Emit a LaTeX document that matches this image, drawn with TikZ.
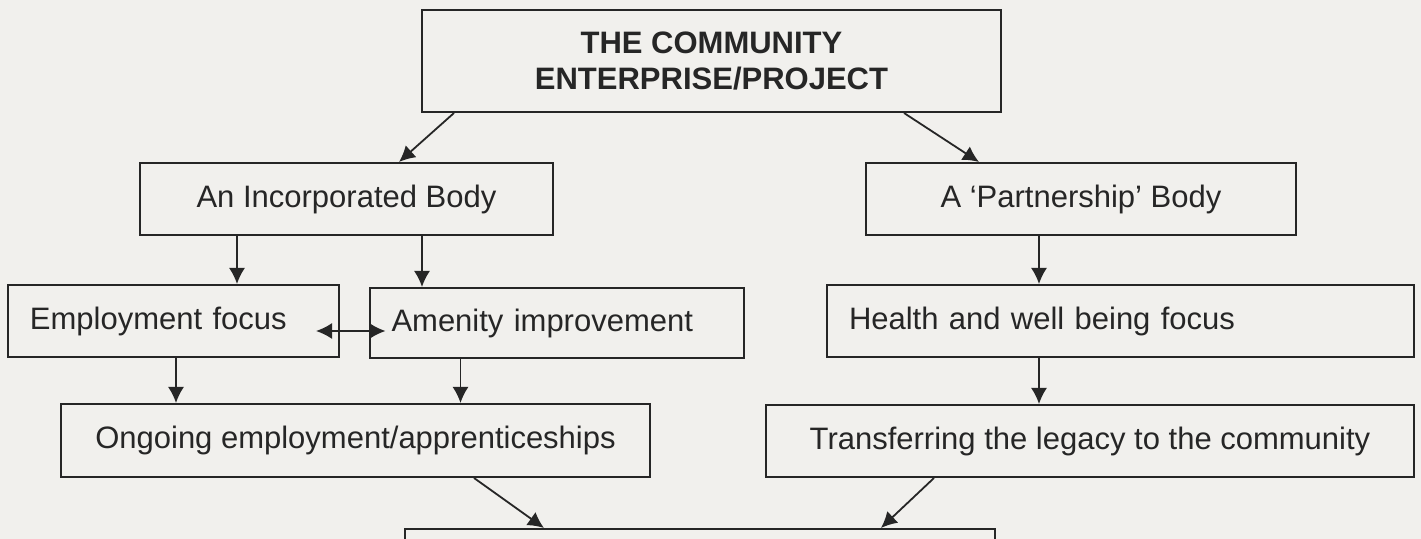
\documentclass[tikz,border=0pt]{standalone}
\usepackage{fontspec}
\setmainfont{Liberation Sans}
\usetikzlibrary{arrows.meta}
\definecolor{ink}{HTML}{262626}
\definecolor{paper}{HTML}{F1F0ED}

\begin{document}
\begin{tikzpicture}[x=0.5pt,y=-0.5pt,
		box/.style={draw=ink,line width=1pt,text=ink,inner sep=0pt,align=center,
			font=\fontsize{15.5}{18}\selectfont},
		lbox/.style={box,align=left,inner xsep=11pt},
		arr/.style={draw=ink,line width=0.9pt,-{Latex[length=8pt,width=8pt]}},
		darr/.style={arr,{Latex[length=8pt,width=8pt]}-{Latex[length=8pt,width=8pt]}}]
	\useasboundingbox[fill=paper] (0,0) rectangle (1421,539);
		\node[box,minimum width=289.5pt,minimum height=51pt,font=\fontsize{15.5}{18}\selectfont\bfseries]
			(project) at (711.5,61) {THE COMMUNITY\\ENTERPRISE/PROJECT};
		\node[box,minimum width=206.5pt,minimum height=36pt]
			(incorp) at (346.5,199) {An Incorporated Body};
		\node[box,minimum width=215pt,minimum height=36pt]
			(partner) at (1081,199) {A ‘Partnership’ Body};
		\node[lbox,text width=143.5pt,minimum height=36pt]
			(employ) at (173.5,321) {Employment focus};
		\node[lbox,text width=165pt,minimum height=35pt]
			(amenity) at (556.5,323) {Amenity improvement};
		\node[lbox,text width=271.5pt,minimum height=36pt]
			(health) at (1120.5,321) {Health and well being focus};
		\node[box,minimum width=294.5pt,minimum height=36.5pt]
			(ongoing) at (355.5,440.5) {Ongoing employment/apprenticeships};
		\node[box,minimum width=324pt,minimum height=36pt]
			(transfer) at (1090,441) {Transferring the legacy to the community};
		\node[box,minimum width=295pt,minimum height=32pt]
			(outcome) at (700,561) {};
	\draw[arr] ([xshift=16.5pt]project.south west) -- ([xshift=130pt]incorp.north west);
	\draw[arr] ([xshift=241.5pt]project.south west) -- ([xshift=57pt]partner.north west);
	\draw[arr] ([xshift=49pt]incorp.south west) coordinate (e1) -- (e1 |- employ.north);
	\draw[arr] ([xshift=141.5pt]incorp.south west) coordinate (a1) -- (a1 |- amenity.north);
	\draw[arr] ([xshift=87pt]partner.south west) coordinate (h1) -- (h1 |- health.north);
	\draw[darr] ([xshift=-12pt,yshift=-5pt]employ.east) -- ([xshift=8.5pt,yshift=-4pt]amenity.west);
	\draw[arr] ([xshift=84.5pt]employ.south west) coordinate (e2) -- (e2 |- ongoing.north);
	\draw[arr] ([xshift=46pt]amenity.south west) coordinate (a2) -- (a2 |- ongoing.north);
	\draw[arr] ([xshift=106.5pt]health.south west) coordinate (h2) -- (h2 |- transfer.north);
	\draw[arr] ([xshift=207pt]ongoing.south west) -- ([xshift=70pt]outcome.north west);
	\draw[arr] ([xshift=84.5pt]transfer.south west) -- ([xshift=238.5pt]outcome.north west);
\end{tikzpicture}
\end{document}
